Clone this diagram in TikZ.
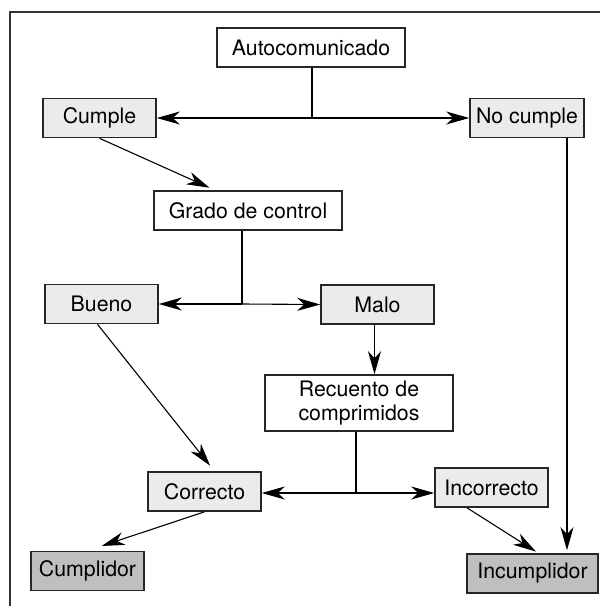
\documentclass[tikz,border=0pt]{standalone}
\usepackage{fontspec}
\setmainfont{TeX Gyre Heros}
\usetikzlibrary{arrows.meta}
\definecolor{palegray}{gray}{0.92}
\definecolor{darkgray}{gray}{0.75}
\tikzset{
  cell/.style={draw=black!85, line width=1.6pt, minimum height=39pt, minimum width=113pt,
    inner sep=0pt, align=center, font=\fontsize{21.3}{24}\selectfont},
  pale/.style={cell, fill=palegray},
  dark/.style={cell, fill=darkgray},
  link/.style={line width=1.1pt, -{Stealth[length=23pt,width=13pt,inset=7pt]}}
}
\begin{document}
\begin{tikzpicture}[x=1pt,y=-1pt]
	\useasboundingbox (0,0) rectangle (600,606);
	\draw[line width=1.5pt, black!80] (10,610) -- (10,12) -- (604,12);
	% nodes
	\node[cell, minimum width=188pt] (aut) at (311,47.5) {Autocomunicado};
	\node[pale] (cum) at (99.5,118) {Cumple};
	\node[pale, minimum width=114pt] (ncu) at (527,118) {No cumple};
	\node[cell, minimum width=188pt] (gra) at (248,210.5) {Grado de control};
	\node[pale] (bue) at (101.5,304) {Bueno};
	\node[pale] (mal) at (377.5,304.5) {Malo};
	\node[cell, minimum width=188pt, minimum height=56pt] (rec) at (359,403) {Recuento de\\comprimidos};
	\node[pale] (cor) at (204.5,491.5) {Correcto};
	\node[pale] (inc) at (491.5,487.5) {Incorrecto};
	\node[dark] (cpl) at (87.5,571) {Cumplidor};
	\node[dark, minimum width=131pt] (icp) at (532.5,573.5) {Incumplidor};
	\coordinate (j1) at (312,118);
	\coordinate (j2) at (242,304);
	\coordinate (j3) at (356,493);
	% connectors
	\draw[line width=1.1pt] (aut.south -| j1) -- (j1);
	\draw[link] (j1) -- (cum.east);
	\draw[link] (j1) -- (ncu.west);
	\draw[link, shorten >=6pt] (cum.south) -- ([xshift=-33pt]gra.north);
	\draw[line width=1.1pt] (gra.south -| j2) -- (j2);
	\draw[link] (j2) -- (bue.east);
	\draw[link] (j2) -- (mal.west);
	\draw[link] ([xshift=-3pt]mal.south) -- ([xshift=-3pt]mal.south |- rec.north);
	\draw[link, shorten >=7pt] ([xshift=-4pt]bue.south) -- ([xshift=10pt]cor.north);
	\draw[line width=1.1pt] (rec.south -| j3) -- (j3);
	\draw[link] (j3) -- (j3 -| cor.east);
	\draw[link] (j3) -- (j3 -| inc.west);
	\draw[link, shorten >=15pt] (cor.south) -- (cpl.north);
	\draw[link, shorten >=3pt] ([xshift=-24.5pt]inc.south) -- ([xshift=6pt]icp.north);
	\draw[link, shorten >=3pt] ([xshift=40pt]ncu.south) -- ([xshift=40pt]ncu.south |- icp.north);
\end{tikzpicture}
\end{document}
